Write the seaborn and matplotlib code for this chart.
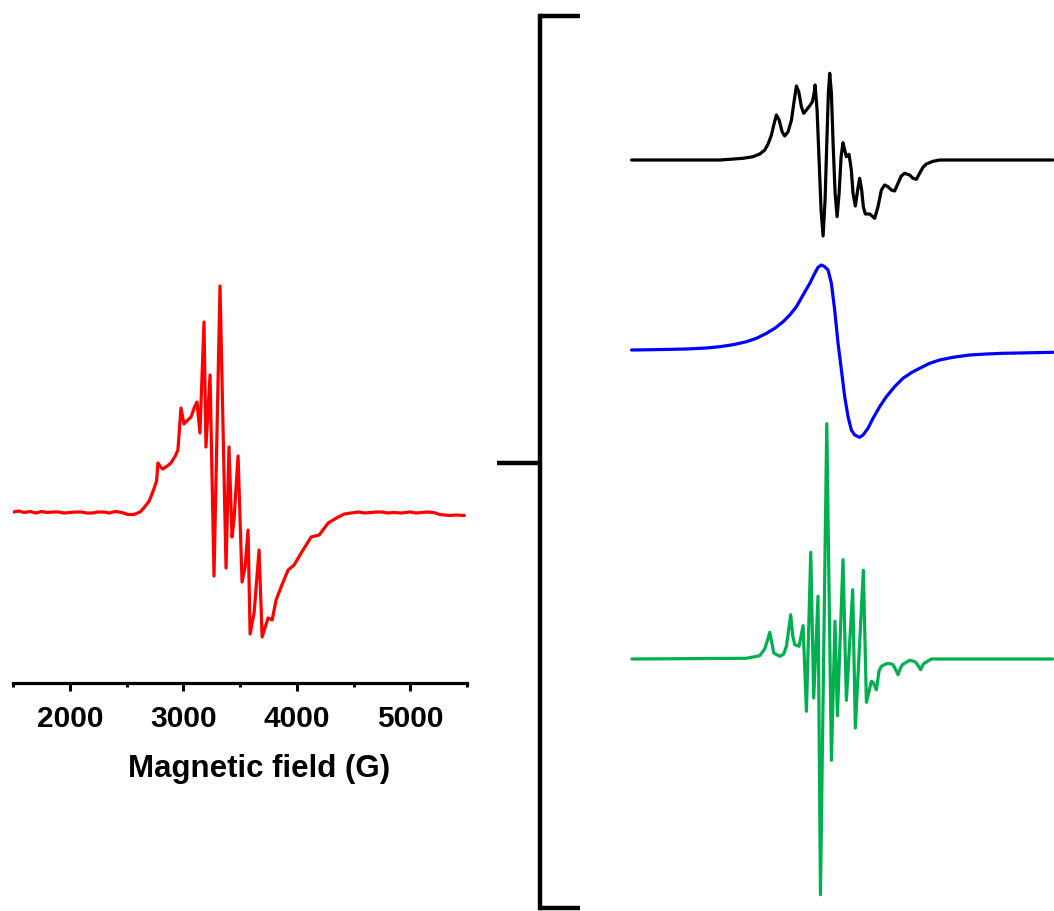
import numpy as np
import pandas as pd
import matplotlib
matplotlib.use("Agg")
import matplotlib.pyplot as plt
import seaborn as sns

# ---------------- data ----------------
# Experimental spectrum (left panel): field in G, intensity in arbitrary units
red_field = [1505, 1550, 1600, 1650, 1700, 1750, 1800, 1850, 1900, 1950, 2000,
             2050, 2100, 2150, 2200, 2250, 2300, 2350, 2400, 2460,
             2512, 2565, 2620, 2653, 2700, 2741, 2765, 2777, 2800, 2820, 2860, 2891, 2930,
             2953, 2980, 3006, 3040, 3068, 3100, 3121, 3147, 3183, 3200, 3236,
             3271, 3324, 3377, 3403, 3430, 3447, 3483, 3518, 3545, 3571, 3589,
             3624, 3668, 3695, 3720, 3748, 3783, 3818, 3862, 3924, 3977, 4039, 4127,
             4198, 4277, 4350, 4418, 4480, 4542, 4600, 4650, 4700, 4750, 4800, 4850,
             4921, 5000, 5050, 5100, 5150, 5213, 5260, 5301, 5350, 5400, 5477]
red_int = [1, 2, 0.5, 1.5, 0, 1.5, 0.5, 1, 1, 0, 0.5,
           1, 1, 0, 0, 1, 1, 0, 1.5, 0.5,
           -1.5, -1.5, 1, 5, 12, 24, 32, 50, 46, 44, 47, 50, 57,
           63, 105, 89, 93, 96, 106, 111, 80, 191, 66, 138,
           -63, 227, -55, 66, -24, -7, 57, -69, -54, -17, -121,
           -100, -37, -124, -115, -105, -107, -87, -74, -57, -52, -40, -24,
           -22, -10, -5, -1, 0, 1, 0, 0.5, 1, 1, 0, 0.5,
           0, 1, 0, 0.5, 1, 0.3, -1.5, -2, -2.5, -2, -2.5]

# Simulated spectra (right panel)
black_field = [1497, 2334, 2429, 2555, 2650, 2713, 2761, 2792, 2824, 2846, 2871,
               2897, 2925, 2950, 2982, 3014, 3036, 3061, 3083, 3108, 3130, 3156,
               3188, 3213, 3229, 3238, 3257, 3276, 3295, 3314, 3333, 3349, 3364,
               3377, 3393, 3409, 3428, 3447, 3466, 3485, 3503, 3519, 3535, 3560,
               3582, 3598, 3620, 3642, 3661, 3680, 3696, 3715, 3756, 3804, 3835,
               3867, 3898, 3930, 3962, 3993, 4025, 4056, 4088, 4135, 4167, 4199,
               4230, 4262, 4293, 4357, 4420, 5494]
black_int = [0, 0, 0.7, 1.7, 3.3, 6, 10, 16, 25, 35, 45,
             40, 28.3, 24, 28.3, 40, 56.7, 74, 68.3, 53.3, 46.7, 50,
             54.3, 58.3, 66.7, 75, 50, 0, -50, -76, -40, 16.7, 66.7,
             86.7, 66.7, 16.7, -33.3, -56.7, -33.3, 3.3, 17.3, 10, 3.3, 5.7,
             -10, -33.3, -46, -30, -18.3, -30, -46.7, -54, -54, -58.3, -46.7,
             -30, -25, -26.7, -30, -31, -23.3, -16, -13.3, -15, -18.3, -19.3,
             -13.3, -7.3, -4, -1.3, 0, 0]

blue_field = [1497, 1702, 2018, 2208, 2334, 2461, 2587, 2682, 2777, 2856, 2935,
              2998, 3061, 3124, 3188, 3235, 3266, 3298, 3330, 3361, 3393, 3424,
              3456, 3488, 3519, 3551, 3582, 3614, 3661, 3693, 3740, 3788, 3851,
              3914, 3993, 4072, 4151, 4230, 4325, 4420, 4546, 4704, 4862, 5020,
              5178, 5494]
blue_int = [0, 0.3, 1, 2, 3.3, 5.3, 8.3, 11.7, 16.7, 21.7, 28.3,
            35, 43.3, 55, 66.7, 76.7, 82.7, 85, 83.3, 80, 66.7, 40,
            6.7, -20, -46.7, -66.7, -80, -85, -87.3, -85, -78.3, -68.3, -56.7,
            -46.7, -36.7, -28.3, -22.7, -18.3, -13.3, -10, -7.3, -5, -4, -3.3,
            -3, -2.3]

green_field = [1500, 2587, 2713, 2760, 2790, 2808, 2825, 2846, 2903, 2940, 2966, 3007, 3025, 3045, 3086,
               3124, 3156, 3197, 3225, 3266, 3289, 3349, 3393, 3427, 3450, 3503,
               3535, 3595, 3620, 3696, 3725, 3772, 3788, 3820, 3845, 3867, 3915, 3950, 3977,
               4000, 4025, 4045, 4066, 4135, 4180, 4199, 4240, 4260, 4278, 4341, 5491]
green_int = [0, 0.7, 3.3, 10, 20, 26.7, 18, 6, 2.7, 5, 12.7, 44.3, 24, 14.3, 12.7,
             33.3, -52.3, 106.7, -39, 62.7, -235.7, 235.3, -101.3, 37.7, -56.7, 99.3,
             -41.3, 69.3, -69, 88.7, -43.3, -22.3, -23.3, -30.7, -12, -7.3, -4.7, -4.5, -5.7,
             -10, -15.7, -10, -5.7, -1.3, -2.5, -4, -10.7, -6, -4, 0, 0]

x_ticks = [2000, 3000, 4000, 5000]
x_label = "Magnetic field (G)"

# ---------------- style ----------------
sns.set_style("white")
plt.rcParams["font.family"] = ["Liberation Sans", "DejaVu Sans"]
plt.rcParams["font.weight"] = "bold"
plt.rcParams["text.color"] = "black"
plt.rcParams["axes.labelcolor"] = "black"
plt.rcParams["xtick.color"] = "black"
plt.rcParams["ytick.color"] = "black"
plt.rcParams["lines.solid_joinstyle"] = "round"
plt.rcParams["lines.solid_capstyle"] = "round"

W, H = 1054, 911
fig = plt.figure(figsize=(W / 100, H / 100), dpi=100)

# ---------------- left panel ----------------
axL = fig.add_axes([13 / W, (H - 683) / H, 454 / W, (683 - 16) / H])
df_red = pd.DataFrame({"field": red_field, "intensity": red_int})
sns.lineplot(data=df_red, x="field", y="intensity", ax=axL, color="#FF0000",
             linewidth=2.3, sort=False, estimator=None)
axL.set_xlim(1500, 5500)
axL.set_ylim(-170, 497)
for s in ["left", "top", "right"]:
    axL.spines[s].set_visible(False)
axL.spines["bottom"].set_linewidth(2.3)
axL.spines["bottom"].set_color("black")
axL.set_xticks(x_ticks)
axL.set_xticks([1500, 2500, 3500, 4500, 5500], minor=True)
axL.set_yticks([])
axL.tick_params(axis="x", which="major", direction="out", length=6, width=2.2,
                colors="black", labelsize=21.5, pad=10, bottom=True)
axL.tick_params(axis="x", which="minor", direction="out", length=3, width=2.2,
                colors="black", bottom=True)
for lab in axL.get_xticklabels():
    lab.set_fontweight("bold")
axL.set_xlabel(x_label, fontsize=22.5, fontweight="bold", color="black")
axL.xaxis.set_label_coords(0.542, -0.107)
axL.set_ylabel("")

# ---------------- right panel ----------------
axR = fig.add_axes([540 / W, (H - 908) / H, (W - 540) / W, (908 - 16) / H])
offsets = {"black": 748, "blue": 558, "green": 249}
for fld, val, col, key in [(black_field, black_int, "black", "black"),
                           (blue_field, blue_int, "#0000FF", "blue"),
                           (green_field, green_int, "#00B050", "green")]:
    d = pd.DataFrame({"field": fld, "intensity": np.array(val) + offsets[key]})
    sns.lineplot(data=d, x="field", y="intensity", ax=axR, color=col,
                 linewidth=2.3, sort=False, estimator=None)
axR.set_xlim(628, 5505)
axR.set_ylim(0, 892)
for s in ["bottom", "top", "right"]:
    axR.spines[s].set_visible(False)
axR.spines["left"].set_linewidth(3.2)
axR.spines["left"].set_color("black")
axR.set_xticks([])
axR.set_yticks([445])
axR.set_yticks([0, 892], minor=True)
axR.tick_params(axis="y", which="major", direction="out", length=31, width=3.2,
                colors="black", labelleft=False, left=True)
axR.tick_params(axis="y", which="minor", direction="in", length=29, width=3.2,
                colors="black", labelleft=False, left=True)
axR.set_xlabel("")
axR.set_ylabel("")
for t in axR.yaxis.get_minor_ticks() + axR.yaxis.get_major_ticks():
    t.tick1line.set_clip_on(False)

fig.savefig("out.png", dpi=100)
